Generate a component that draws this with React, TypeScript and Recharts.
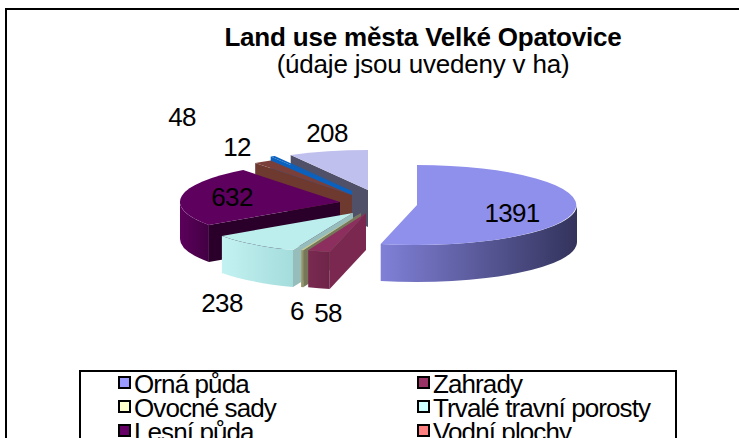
import { Legend, Pie, PieChart } from "recharts";

const names = ["Orná půda", "Zahrady", "Ovocné sady", "Trvalé travní porosty", "Lesní půda", "Vodní plochy", "Zastavěné plochy", "Ostatní plochy"];
const values = [1391, 58, 6, 238, 632, 48, 12, 208];
const swatches = ["#9999ff", "#993366", "#ffffcc", "#ccffff", "#660066", "#ff8080", "#0066cc", "#ccccff"];

// what the slices look like once shaded: top face, outer wall (light, dark), cut face
const tops = ["#8f8fec", "#8c2f5e", "#c9c98f", "#bdeeee", "#5e005e", "#7a3f38", "#0a62c0", "#c0c0ee"];
const wallsLight = ["#8080d8", "#7a2a50", "#a8a878", "#c4f2f2", "#5c005c", "#5a2a28", "#084a90", "#8e8ebc"];
const wallsDark = ["#33335c", "#6e2448", "#8c8c60", "#a4dcdc", "#420042", "#5a2a28", "#084a90", "#70709a"];
const cuts = ["#33335c", "#7a2850", "#77775a", "#96bcbc", "#2a002a", "#6e3a30", "#0a62c0", "#505068"];

// explosion of every slice from the pie centre, and its label relative to the slice apex
const explode = [[62, 0], [11, 8], [6, 8], [-2, 8], [-15, -3], [-3, -10], [-3, -14], [13, -15]];
const labelShift = [[95, 8], [-38, 100], [-64, 98], [-131, 90], [-108, -5], [-170, -78], [-115, -44], [-41, -57]];

const SQUASH = 0.25;
const DEPTH = 37;

const data = names
  .map((name, i) => ({ name, value: values[i], idx: i }))
  .reverse();

const pt = (x: number, y: number) => `${x.toFixed(1)} ${y.toFixed(1)}`;

function Slice3D(props: any) {
  const { cx, cy, outerRadius, startAngle, endAngle, payload } = props;
  const i = payload.idx;
  const ax = cx + explode[i][0];
  const ay = cy + explode[i][1];
  const rx = outerRadius;
  const ry = outerRadius * SQUASH;
  // clock angles, clockwise from 12 o'clock
  const a = ((90 - Math.max(startAngle, endAngle)) % 360 + 720) % 360;
  const sweep = Math.abs(endAngle - startAngle);
  const b = a + sweep;
  const rad = (d: number) => (d * Math.PI) / 180;
  const px = (d: number) => ax + rx * Math.sin(rad(d));
  const py = (d: number) => ay - ry * Math.cos(rad(d));
  const large = sweep > 180 ? 1 : 0;

  const top = `M${pt(ax, ay)} L${pt(px(a), py(a))} A${rx} ${ry} 0 ${large} 1 ${pt(px(b), py(b))} Z`;
  const face = (d: number) =>
    `M${pt(ax, ay)} L${pt(px(d), py(d))} L${pt(px(d), py(d) + DEPTH)} L${pt(ax, ay + DEPTH)} Z`;

  // the part of the rim that faces the viewer runs from 3 to 9 o'clock
  const wa = Math.max(a, 90);
  const wb = Math.min(b, 270);
  const wall =
    wb > wa
      ? `M${pt(px(wa), py(wa))} A${rx} ${ry} 0 0 1 ${pt(px(wb), py(wb))} L${pt(px(wb), py(wb) + DEPTH)} A${rx} ${ry} 0 0 0 ${pt(px(wa), py(wa) + DEPTH)} Z`
      : null;

  const gid = `wall-${i}`;
  return (
    <g>
      <defs>
        <linearGradient id={gid} x1="0" x2="1" y1="0" y2="0">
          <stop offset="0%" stopColor={wallsLight[i]} />
          <stop offset="100%" stopColor={wallsDark[i]} />
        </linearGradient>
      </defs>
      {Math.sin(rad(a)) < 0 && <path d={face(a)} fill={cuts[i]} />}
      {Math.sin(rad(b)) > 0 && <path d={face(b)} fill={cuts[i]} />}
      {wall && <path d={wall} fill={`url(#${gid})`} />}
      <path d={top} fill={tops[i]} />
    </g>
  );
}

function SliceLabel(props: any) {
  const { cx, cy, payload } = props;
  const i = payload.idx;
  return (
    <text
      x={cx + explode[i][0] + labelShift[i][0]}
      y={cy + explode[i][1] + labelShift[i][1]}
      textAnchor="middle"
      dominantBaseline="central"
      fontFamily="Liberation Sans"
      fontSize={26}
      letterSpacing={-0.7}
      fill="#000"
    >
      {values[i]}
    </text>
  );
}

function LegendBox() {
  return (
    <div
      style={{
        width: 598,
        height: 110,
        border: "2px solid #000",
        boxSizing: "border-box",
        background: "#fff",
        display: "grid",
        gridTemplateColumns: "299px 1fr",
        gridAutoRows: "24px",
        alignContent: "start",
        paddingLeft: 37,
        fontFamily: "Liberation Sans",
        fontSize: 26,
        lineHeight: "24px",
        letterSpacing: -0.9,
        color: "#000",
      }}
    >
      {names.map((name, i) => (
        <div key={name} style={{ display: "flex", alignItems: "center", whiteSpace: "nowrap" }}>
          <span
            style={{
              width: 9,
              height: 9,
              flexShrink: 0,
              border: "2px solid #000",
              background: swatches[i],
              marginRight: 3,
              position: "relative",
              top: -2,
            }}
          />
          {name}
        </div>
      ))}
    </div>
  );
}

export default function App() {
  return (
    <div style={{ position: "absolute", left: 0, top: 0, width: 739, height: 438, overflow: "hidden", background: "#fff" }}>
      <div
        style={{
          position: "absolute",
          left: 5,
          top: 8,
          width: 760,
          height: 500,
          border: "2px solid #000",
          boxSizing: "content-box",
        }}
      />
      <div
        style={{
          position: "absolute",
          left: 0,
          top: 24,
          width: 846,
          textAlign: "center",
          fontFamily: "Liberation Sans",
          fontSize: 26,
          lineHeight: "27px",
          letterSpacing: -0.2,
          color: "#000",
        }}
      >
        <div style={{ fontWeight: "bold" }}>Land use města Velké Opatovice</div>
        <div>(údaje jsou uvedeny v ha)</div>
      </div>
      <div style={{ position: "absolute", left: 0, top: 0 }}>
        <PieChart width={739} height={500} margin={{ top: 0, right: 0, bottom: 0, left: 0 }}>
          <Pie
            data={data}
            dataKey="value"
            nameKey="name"
            cx={355}
            cy={205}
            outerRadius={160}
            startAngle={90}
            endAngle={450}
            stroke="none"
            shape={Slice3D}
            label={SliceLabel}
            labelLine={false}
            isAnimationActive={false}
          />
          <Legend
            content={<LegendBox />}
            layout="vertical"
            wrapperStyle={{ position: "absolute", left: 79, top: 370, width: 598 }}
          />
        </PieChart>
      </div>
    </div>
  );
}
